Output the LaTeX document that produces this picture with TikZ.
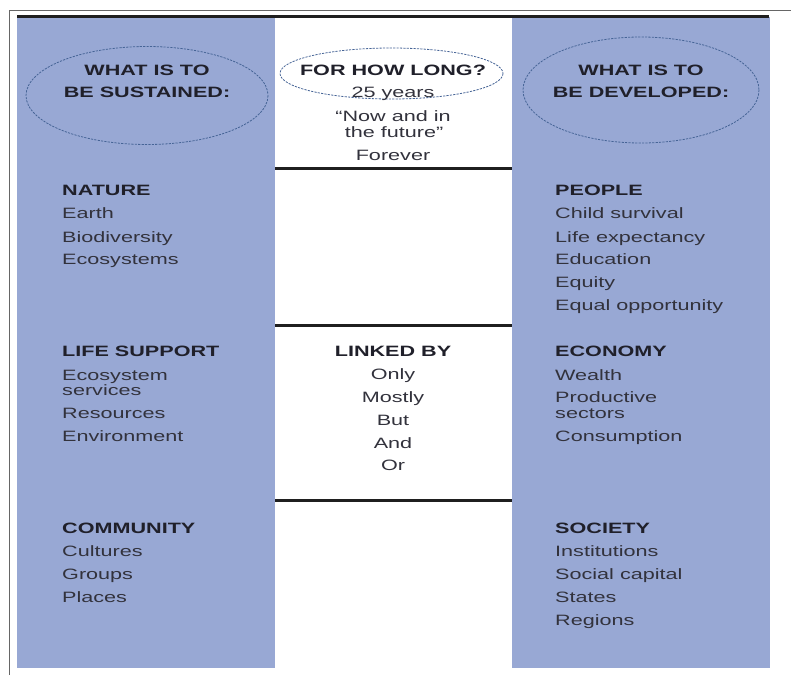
\documentclass[tikz,border=0pt]{standalone}
\usepackage{fontspec}
\setmainfont[FakeStretch=1.44]{Liberation Sans}
\begin{document}
\definecolor{panelblue}{RGB}{152,168,212}
\definecolor{inktext}{RGB}{50,50,60}
\definecolor{inkhead}{RGB}{32,32,42}
\definecolor{dashblue}{RGB}{70,100,150}
\tikzset{
  panel/.style={fill=panelblue, draw=none},
  rule/.style={line width=3pt, draw=black!88},
  frameline/.style={line width=0.9pt, draw=black!60},
  oval/.style={draw=dashblue, line width=0.8pt, dash pattern=on 2.2pt off 1.2pt},
  item/.style={anchor=base west, inner sep=0pt, text=inktext, font=\fontsize{15}{18}\selectfont},
  head/.style={item, text=inkhead, font=\fontsize{15}{18}\selectfont\bfseries},
  citem/.style={item, anchor=base},
  chead/.style={head, anchor=base},
}
\begin{tikzpicture}[x=1pt,y=-1pt]
\useasboundingbox (0,0) rectangle (791,675);
% outer frame (top and left edges)
\draw[frameline] (9,675) -- (9,10) -- (791,10);
% side panels
\fill[panel] (17,17) rectangle (275,668);
\fill[panel] (512,17) rectangle (770,668);
% rules
\draw[rule] (17,16) -- (769,16);
\draw[rule] (275,168) -- (512,168);
\draw[rule] (275,325.5) -- (512,325.5);
\draw[rule] (275,500.5) -- (512,500.5);
% header ovals
\draw[oval] (147,95.5) ellipse [x radius=121, y radius=49];
\draw[oval] (391.5,73.5) ellipse [x radius=111.5, y radius=25.5];
\draw[oval] (641,90) ellipse [x radius=118, y radius=53];
% header texts
\node[chead] (hL1) at (147,75.5) {WHAT IS TO};
\node[chead] (hL2) at (147,97.5) {BE SUSTAINED:};
\node[chead] (hR1) at (641,75.5) {WHAT IS TO};
\node[chead] (hR2) at (641,97.5) {BE DEVELOPED:};
\node[chead] (hM) at (393,75.5) {FOR HOW LONG?};
\node[citem] (m1) at (393,97.5) {25 years};
\node[citem] (m2) at (393,121.5) {“Now and in};
\node[citem] (m3) at (394,137.5) {the future”};
\node[citem] (m4) at (393,160.5) {Forever};
% left column
\node[head] (n0) at (62,195.5) {NATURE};
\node[item] (n1) at (62,218.5) {Earth};
\node[item] (n2) at (62,242.5) {Biodiversity};
\node[item] (n3) at (62,264.5) {Ecosystems};
\node[head] (s0) at (62,356.5) {LIFE SUPPORT};
\node[item] (s1) at (62,380) {Ecosystem};
\node[item] (s2) at (62,395) {services};
\node[item] (s3) at (62,418) {Resources};
\node[item] (s4) at (62,441) {Environment};
\node[head] (c0) at (62,533.5) {COMMUNITY};
\node[item] (c1) at (62,556.5) {Cultures};
\node[item] (c2) at (62,579.5) {Groups};
\node[item] (c3) at (62,602.5) {Places};
% centre column
\node[chead] (k0) at (393,356.5) {LINKED BY};
\node[citem] (k1) at (393,379.5) {Only};
\node[citem] (k2) at (393,402) {Mostly};
\node[citem] (k3) at (393,425) {But};
\node[citem] (k4) at (393,448) {And};
\node[citem] (k5) at (393,470.5) {Or};
% right column
\node[head] (p0) at (555,195.5) {PEOPLE};
\node[item] (p1) at (555,218.5) {Child survival};
\node[item] (p2) at (555,242.5) {Life expectancy};
\node[item] (p3) at (555,264.5) {Education};
\node[item] (p4) at (555,287.5) {Equity};
\node[item] (p5) at (555,310.5) {Equal opportunity};
\node[head] (e0) at (555,356.5) {ECONOMY};
\node[item] (e1) at (555,380) {Wealth};
\node[item] (e2) at (555,402.5) {Productive};
\node[item] (e3) at (555,418) {sectors};
\node[item] (e4) at (555,441) {Consumption};
\node[head] (q0) at (555,533.5) {SOCIETY};
\node[item] (q1) at (555,556.5) {Institutions};
\node[item] (q2) at (555,579.5) {Social capital};
\node[item] (q3) at (555,602.5) {States};
\node[item] (q4) at (555,625.5) {Regions};
\end{tikzpicture}
\end{document}
